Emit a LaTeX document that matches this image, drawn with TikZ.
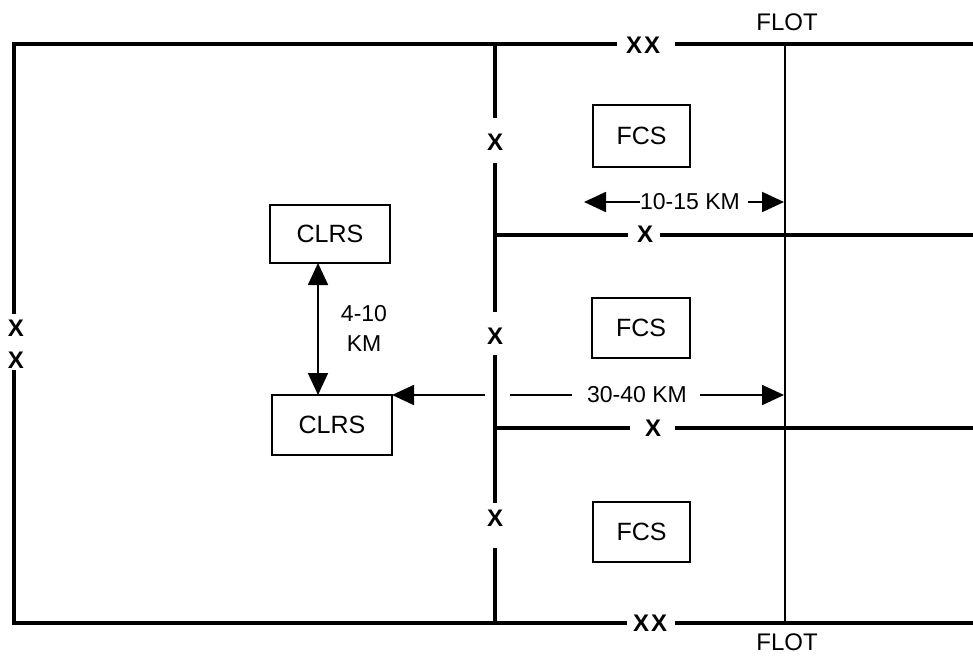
\documentclass[tikz,border=0pt]{standalone}
\usepackage{fontspec}
\setmainfont{Liberation Sans}
\usetikzlibrary{arrows.meta}
\begin{document}
\begin{tikzpicture}[x=1pt,y=-1pt,
  frame/.style={line width=3.6pt, line join=miter},
  flotline/.style={line width=1.8pt},
  unitbox/.style={draw, line width=1.8pt, inner sep=0pt, outer sep=0pt, font=\fontsize{25}{30}\selectfont},
  xmark/.style={inner sep=0pt, font=\fontsize{24}{28}\selectfont\bfseries},
  dimtext/.style={inner sep=0pt, font=\fontsize{23}{30}\selectfont},
  dimline/.style={line width=1.8pt},
  dimtip/.style={line width=1.8pt, -{Triangle[length=22pt,width=20pt]}},
  dimboth/.style={line width=1.8pt, {Triangle[length=22pt,width=20pt]}-{Triangle[length=22pt,width=20pt]}}
]
\useasboundingbox (0,0) rectangle (973,656);

% boundary lines
\draw[frame] (617,44) -- (14,44) -- (14,314);
\draw[frame] (14,370) -- (14,623) -- (627,623);
\draw[frame] (675,44) -- (973,44);
\draw[frame] (675,623) -- (973,623);

% brigade / battalion boundaries
\draw[frame] (495,44) -- (495,118);
\draw[frame] (495,163) -- (495,312);
\draw[frame] (495,355) -- (495,503);
\draw[frame] (495,548) -- (495,623);
\draw[frame] (495,235) -- (628,235);
\draw[frame] (660,235) -- (973,235);
\draw[frame] (495,428) -- (630,428);
\draw[frame] (675,428) -- (973,428);

% FLOT
\draw[flotline] (785,44) -- (785,623);
\node[dimtext, font=\fontsize{24}{28}\selectfont] (flottop) at (787,22) {FLOT};
\node[dimtext, font=\fontsize{24}{28}\selectfont] (flotbot) at (787,642) {FLOT};

% boundary symbols
\node[xmark] (xxtop) at (643,45) {X\kern2pt X};
\node[xmark] (xxbot) at (650,623) {X\kern2pt X};
\node[xmark] (xl1) at (16,328) {X};
\node[xmark] (xl2) at (16,360) {X};
\node[xmark] (xv1) at (495,142) {X};
\node[xmark] (xv2) at (495,336) {X};
\node[xmark] (xv3) at (495,518) {X};
\node[xmark] (xh1) at (645,234) {X};
\node[xmark] (xh2) at (653,428) {X};

% units
\node[unitbox, minimum width=97pt, minimum height=62pt] (fcs1) at (641.5,136) {FCS};
\node[unitbox, minimum width=98pt, minimum height=60pt] (fcs2) at (641,328) {FCS};
\node[unitbox, minimum width=97pt, minimum height=60pt] (fcs3) at (641.5,532) {FCS};
\node[unitbox, minimum width=120pt, minimum height=58pt] (clrs1) at (330,234) {CLRS};
\node[unitbox, minimum width=120pt, minimum height=60pt] (clrs2) at (332,425) {CLRS};

% 4-10 KM
\draw[dimboth] ([xshift=-12pt]clrs1.south) -- ([xshift=-14pt]clrs2.north);
\node[dimtext, align=center] (d410) at (364,328) {4-10\\KM};

% 10-15 KM
\node[dimtext] (d1015) at (690,202) {10-15 KM};
\coordinate (t1015l) at (584,202);
\coordinate (t1015r) at (784,202);
\draw[dimtip] (d1015.west) -- (t1015l);
\draw[dimtip] ([xshift=8pt]d1015.east) -- (t1015r);

% 30-40 KM
\node[dimtext] (d3040) at (637,395) {30-40 KM};
\coordinate (g3040l) at (485,395);
\coordinate (g3040r) at (510,395);
\coordinate (t3040r) at (784,395);
\draw[dimtip] (g3040l) -- (clrs2.north east);
\draw[dimline] (g3040r) -- ([xshift=-15pt]d3040.west);
\draw[dimtip] ([xshift=13pt]d3040.east) -- (t3040r);
\end{tikzpicture}
\end{document}
